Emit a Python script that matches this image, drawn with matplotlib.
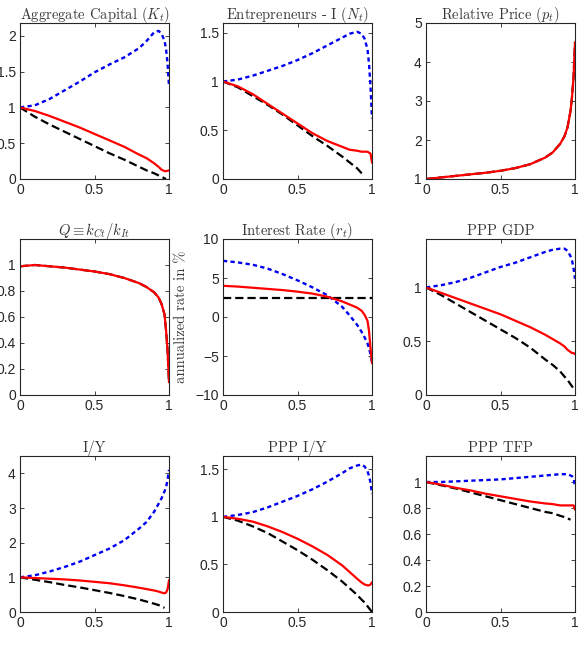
import numpy as np
import matplotlib
matplotlib.use("Agg")
import matplotlib.pyplot as plt

nan = np.nan
X = [0, 0.1, 0.2, 0.3, 0.4, 0.5, 0.6, 0.7, 0.8, 0.85, 0.9, 0.93, 0.95, 0.97, 0.98, 0.99, 1.0]

titles = [r"Aggregate Capital $(K_t)$", r"Entrepreneurs - I $(N_t)$", r"Relative Price $(p_t)$",
          r"$Q \equiv k_{Ct}/k_{It}$", r"Interest Rate $(r_t)$", "PPP GDP",
          "I/Y", "PPP I/Y", "PPP TFP"]

# panel 1: Aggregate Capital
k_black = [1, 0.87, 0.76, 0.66, 0.56, 0.46, 0.36, 0.27, 0.17, 0.12, 0.08, 0.05, 0.03, 0.01, 0.0, nan, nan]
k_red = [1, 0.95, 0.88, 0.80, 0.72, 0.63, 0.54, 0.45, 0.34, 0.29, 0.22, 0.17, 0.13, 0.11, 0.11, 0.115, 0.12]
k_blue = [1, 1.03, 1.12, 1.24, 1.36, 1.49, 1.60, 1.70, 1.83, 1.93, 2.05, 2.07, 2.03, 1.93, 1.82, 1.62, 1.30]
# panel 2: Entrepreneurs
n_black = [1, 0.94, 0.85, 0.76, 0.66, 0.55, 0.44, 0.34, 0.23, 0.17, 0.11, 0.06, 0.03, nan, nan, nan, nan]
n_red = [1, 0.95, 0.87, 0.77, 0.67, 0.57, 0.47, 0.39, 0.33, 0.30, 0.29, 0.28, 0.28, 0.28, 0.27, 0.26, 0.17]
n_blue = [1, 1.02, 1.06, 1.11, 1.16, 1.22, 1.29, 1.37, 1.45, 1.49, 1.51, 1.49, 1.44, 1.33, 1.18, 0.95, 0.62]
# panel 3: Relative price
p_black = [1.0, 1.04, 1.08, 1.12, 1.16, 1.21, 1.28, 1.38, 1.55, 1.68, 1.9, 2.1, 2.33, 2.75, 3.1, 3.6, 4.5]
p_red = [1.0, 1.04, 1.08, 1.12, 1.16, 1.21, 1.28, 1.38, 1.55, 1.68, 1.9, 2.1, 2.33, 2.75, 3.1, 3.6, 4.5]
# panel 4: Q
q_black = [0.99, 1.0, 0.99, 0.98, 0.965, 0.95, 0.93, 0.90, 0.86, 0.83, 0.79, 0.75, 0.70, 0.62, 0.5, 0.35, 0.1]
q_red = [0.99, 1.0, 0.99, 0.98, 0.965, 0.95, 0.93, 0.90, 0.86, 0.83, 0.79, 0.75, 0.70, 0.62, 0.5, 0.35, 0.1]
# panel 5: Interest rate
r_black = [2.5] * 17
r_red = [4.0, 3.9, 3.75, 3.6, 3.45, 3.25, 3.0, 2.6, 2.0, 1.6, 1.2, 0.8, 0.3, -0.5, -1.8, -4.0, -5.9]
r_blue = [7.2, 7.0, 6.7, 6.2, 5.5, 4.7, 3.8, 2.8, 1.3, 0.2, -1.0, -1.9, -2.6, -3.4, -4.0, -4.8, -5.8]
# panel 6: PPP GDP
g_black = [1, 0.93, 0.85, 0.77, 0.69, 0.61, 0.53, 0.44, 0.33, 0.28, 0.22, 0.17, 0.14, 0.10, 0.08, 0.06, 0.04]
g_red = [1, 0.95, 0.90, 0.85, 0.80, 0.75, 0.69, 0.63, 0.56, 0.52, 0.48, 0.45, 0.42, 0.40, 0.39, 0.39, 0.38]
g_blue = [1, 1.02, 1.05, 1.09, 1.14, 1.19, 1.23, 1.28, 1.33, 1.35, 1.36, 1.36, 1.34, 1.29, 1.25, 1.18, 1.08]
# panel 7: I/Y
iy_black = [1, 0.93, 0.86, 0.78, 0.71, 0.63, 0.55, 0.46, 0.36, 0.30, 0.24, 0.20, 0.16, 0.12, nan, nan, nan]
iy_red = [1.0, 0.98, 0.96, 0.94, 0.91, 0.87, 0.83, 0.77, 0.70, 0.66, 0.62, 0.59, 0.56, 0.54, 0.56, 0.65, 0.91]
iy_blue = [1, 1.06, 1.17, 1.30, 1.45, 1.64, 1.83, 2.07, 2.41, 2.6, 2.89, 3.12, 3.28, 3.48, 3.6, 3.8, 4.1]
# panel 8: PPP I/Y
piy_black = [1, 0.96, 0.90, 0.83, 0.74, 0.65, 0.55, 0.44, 0.32, 0.25, 0.18, 0.13, 0.10, 0.06, 0.04, 0.02, 0.0]
piy_red = [1, 0.98, 0.95, 0.90, 0.84, 0.77, 0.69, 0.60, 0.49, 0.42, 0.35, 0.31, 0.29, 0.28, 0.28, 0.29, 0.31]
piy_blue = [1, 1.02, 1.05, 1.10, 1.16, 1.22, 1.29, 1.37, 1.46, 1.51, 1.54, 1.55, 1.53, 1.48, 1.43, 1.36, 1.24]
# panel 9: PPP TFP
tfp_black = [1, 0.975, 0.95, 0.92, 0.89, 0.86, 0.83, 0.80, 0.77, 0.76, 0.74, 0.73, 0.72, 0.71, nan, nan, nan]
tfp_red = [1, 0.98, 0.955, 0.935, 0.91, 0.89, 0.87, 0.85, 0.835, 0.83, 0.82, 0.82, 0.82, 0.82, 0.82, 0.82, 0.79]
tfp_blue = [1, 1.0, 1.005, 1.01, 1.015, 1.02, 1.03, 1.04, 1.05, 1.055, 1.06, 1.06, 1.06, 1.05, 1.045, 1.03, 0.97]

panels = [
    (k_black, k_red, k_blue, (0, 2.18), [0, 0.5, 1, 1.5, 2], ["0", "0.5", "1", "1.5", "2"]),
    (n_black, n_red, n_blue, (0, 1.6), [0, 0.5, 1, 1.5], ["0", "0.5", "1", "1.5"]),
    (p_black, p_red, None, (1, 5), [1, 2, 3, 4, 5], ["1", "2", "3", "4", "5"]),
    (q_black, q_red, None, (0, 1.2), [0, 0.2, 0.4, 0.6, 0.8, 1], ["0", "0.2", "0.4", "0.6", "0.8", "1"]),
    (r_black, r_red, r_blue, (-10, 10), [-10, -5, 0, 5, 10], ["\u221210", "\u22125", "0", "5", "10"]),
    (g_black, g_red, g_blue, (0, 1.45), [0, 0.5, 1], ["0", "0.5", "1"]),
    (iy_black, iy_red, iy_blue, (0, 4.5), [0, 1, 2, 3, 4], ["0", "1", "2", "3", "4"]),
    (piy_black, piy_red, piy_blue, (0, 1.64), [0, 0.5, 1, 1.5], ["0", "0.5", "1", "1.5"]),
    (tfp_black, tfp_red, tfp_blue, (0, 1.2), [0, 0.2, 0.4, 0.6, 0.8, 1], ["0", "0.2", "0.4", "0.6", "0.8", "1"]),
]

plt.rcParams['mathtext.fontset'] = 'cm'
plt.rcParams['font.family'] = ['Liberation Sans', 'DejaVu Sans']

fig = plt.figure(figsize=(5.8, 6.54), dpi=100)
W, H = 580, 654
lefts = [20, 223, 426]
tops = [23, 239, 456]
aw, ah = 149, 156
axc = '#262626'
txc = '#383838'

for i, (blk, red, blu, ylim, yt, ytl) in enumerate(panels):
    r, c = divmod(i, 3)
    ax = fig.add_axes([lefts[c] / W, 1 - (tops[r] + ah) / H, aw / W, ah / H])
    ax.plot(X, blk, color='black', lw=1.6, dashes=(3.7, 1.8))
    if blu is not None:
        ax.plot(X, blu, color='#0000f0', lw=1.7, dashes=(1.8, 1.4))
    ax.plot(X, red, color='#ff0000', lw=1.6)
    ax.set_xlim(0, 1)
    ax.set_ylim(*ylim)
    ax.set_xticks([0, 0.5, 1])
    ax.set_xticklabels(["0", "0.5", "1"])
    ax.set_yticks(yt)
    ax.set_yticklabels(ytl)
    ax.tick_params(direction='in', length=3, width=0.6, top=True, right=True,
                   labelsize=10, colors=axc, pad=3)
    for s in ax.spines.values():
        s.set_color(axc)
        s.set_linewidth(0.8)
    ax.set_title(titles[i], fontsize=10.5, family=['cmr10', 'DejaVu Serif'], pad=3, color=txc)
    if i == 4:
        ax.set_ylabel("annualized rate in %", fontsize=10.5, family=['cmr10', 'DejaVu Serif'], color=txc)
        ax.yaxis.set_label_coords(-0.235, 0.5)

fig.savefig("out.png", dpi=100)
